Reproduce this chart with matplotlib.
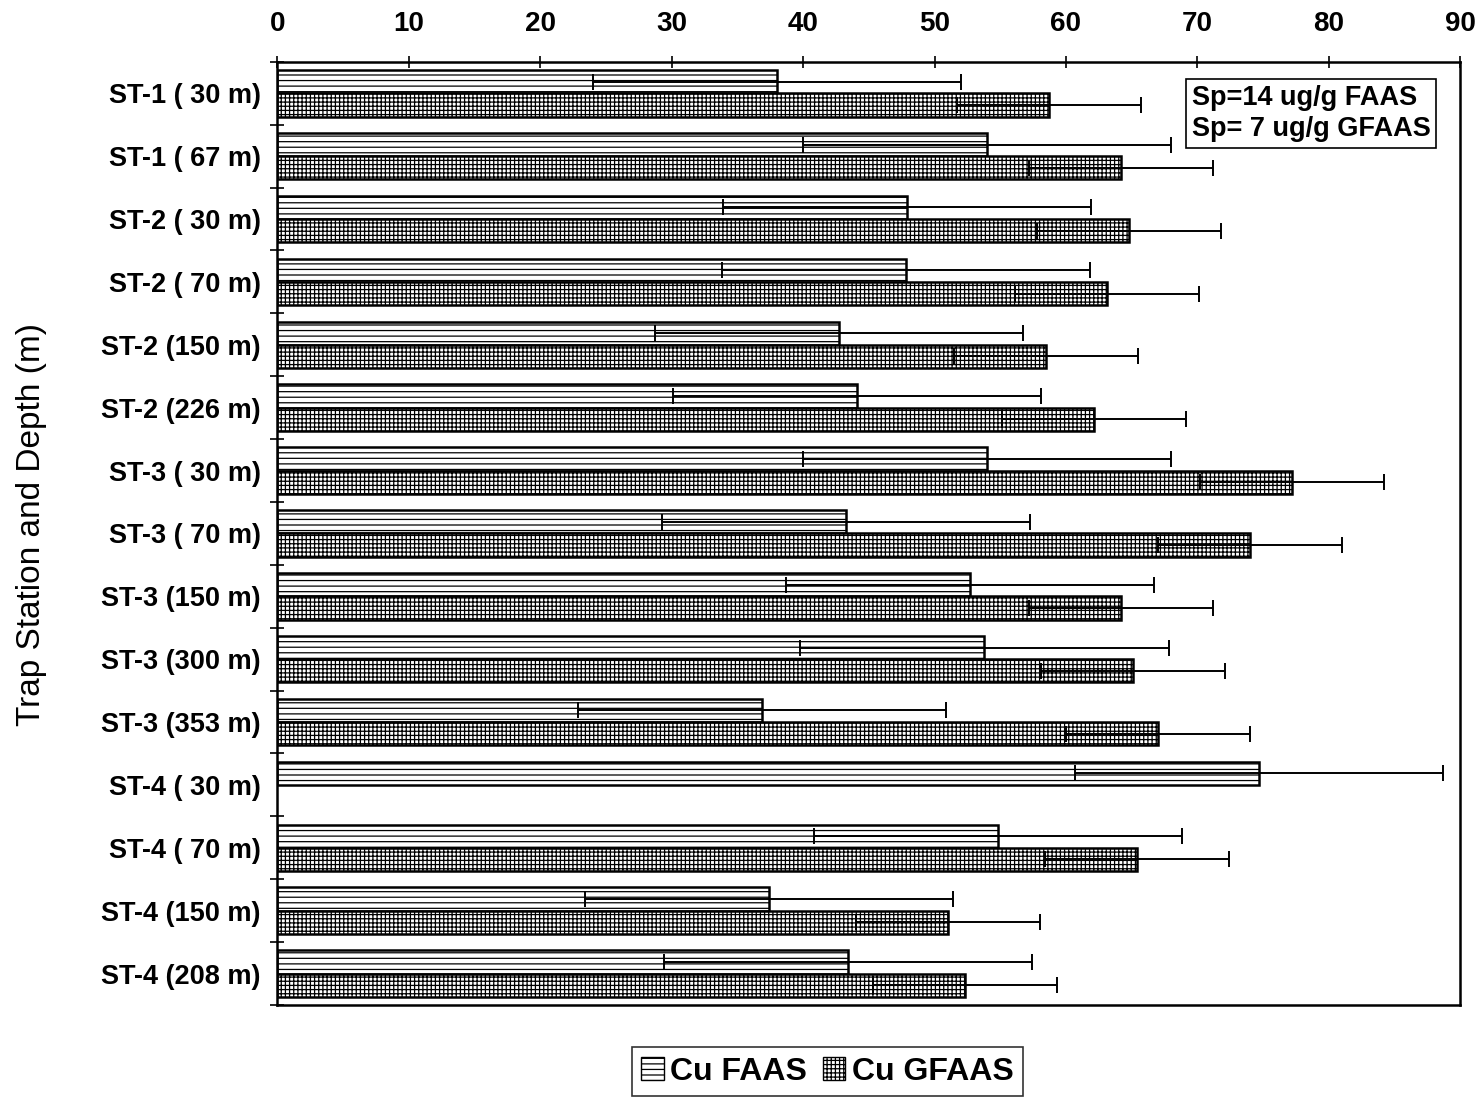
import numpy as np
import matplotlib
matplotlib.use("Agg")
import matplotlib.pyplot as plt
from matplotlib.patches import Patch

plt.rcParams["font.family"] = ["Liberation Sans", "DejaVu Sans"]
plt.rcParams["hatch.linewidth"] = 0.9

stations = [
    "ST-1 ( 30 m)", "ST-1 ( 67 m)", "ST-2 ( 30 m)", "ST-2 ( 70 m)",
    "ST-2 (150 m)", "ST-2 (226 m)", "ST-3 ( 30 m)", "ST-3 ( 70 m)",
    "ST-3 (150 m)", "ST-3 (300 m)", "ST-3 (353 m)", "ST-4 ( 30 m)",
    "ST-4 ( 70 m)", "ST-4 (150 m)", "ST-4 (208 m)",
]
cu_faas = [38.0, 54.0, 47.9, 47.8, 42.7, 44.1, 54.0, 43.3,
           52.7, 53.8, 36.9, 74.7, 54.8, 37.4, 43.4]
cu_gfaas = [58.7, 64.2, 64.8, 63.1, 58.5, 62.1, 77.2, 74.0,
            64.2, 65.1, 67.0, np.nan, 65.4, 51.0, 52.3]
sp_faas = 14.0   # ug/g
sp_gfaas = 7.0   # ug/g

HATCH_FAAS = "---"
HATCH_GFAAS = "++++"

y = np.arange(len(stations))
h = 0.37

fig = plt.figure(figsize=(14.83, 10.98), dpi=100)
ax = fig.add_axes([0.187, 0.0847, 0.7977, 0.859])

faas = np.array(cu_faas)
gfaas = np.array(cu_gfaas)
ok = ~np.isnan(gfaas)

ax.barh(y - h / 2, faas, height=h, color="white", edgecolor="black",
        linewidth=1.8, hatch=HATCH_FAAS)
ax.barh(y[ok] + h / 2, gfaas[ok], height=h, color="white", edgecolor="black",
        linewidth=1.8, hatch=HATCH_GFAAS)

ax.errorbar(faas, y - h / 2, xerr=sp_faas, fmt="none", ecolor="black",
            elinewidth=1.4, capsize=5.5, capthick=1.4)
ax.errorbar(gfaas[ok], y[ok] + h / 2, xerr=sp_gfaas, fmt="none",
            ecolor="black", elinewidth=1.4, capsize=5.5, capthick=1.4)

ax.set_xlim(0, 90)
ax.set_ylim(len(stations) - 0.5, -0.5)
ax.xaxis.tick_top()
ax.set_xticks(np.arange(0, 91, 10))
ax.tick_params(axis="x", direction="inout", length=8, width=1.2, pad=14,
               labelsize=20)
for lbl in ax.get_xticklabels():
    lbl.set_fontweight("bold")

ax.set_yticks(y)
ax.set_yticklabels(stations, fontsize=19.5, fontweight="bold")
ax.set_yticks(np.arange(len(stations) + 1) - 0.5, minor=True)
ax.tick_params(axis="y", which="major", length=0, pad=12)
ax.tick_params(axis="y", which="minor", direction="inout", length=10, width=1.2)

for s in ax.spines.values():
    s.set_linewidth(1.8)

fig.text(0.021, 0.522, "Trap Station and Depth (m)", rotation=90,
         ha="center", va="center", fontsize=24)

ax.text(0.773, 0.945, "Sp=14 ug/g FAAS\nSp= 7 ug/g GFAAS",
        transform=ax.transAxes, ha="left", va="center", fontsize=19.5,
        fontweight="bold", linespacing=1.25,
        bbox=dict(boxstyle="square,pad=0.22", facecolor="white",
                  edgecolor="black", linewidth=1.2))

handles = [
    Patch(facecolor="white", edgecolor="black", hatch=HATCH_FAAS, label="Cu FAAS"),
    Patch(facecolor="white", edgecolor="black", hatch=HATCH_GFAAS, label="Cu GFAAS"),
]
leg = fig.legend(handles=handles, loc="center", bbox_to_anchor=(0.558, 0.024),
                 ncol=2, fancybox=False, edgecolor="black", handlelength=0.7,
                 handleheight=0.7, handletextpad=0.2, columnspacing=0.5,
                 borderpad=0.3, prop={"size": 23, "weight": "bold"})
leg.get_frame().set_linewidth(1.2)

fig.savefig("out.png", dpi=100)
